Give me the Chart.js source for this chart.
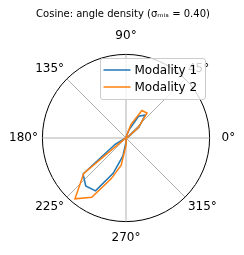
<!DOCTYPE html>
<html>
<head>
<meta charset="utf-8">
<script src="https://cdn.jsdelivr.net/npm/chart.js@4"></script>
<style>
  html, body { margin: 0; padding: 0; background: #fff; }
  #wrap { width: 244px; height: 255px; }
</style>
</head>
<body>
<div id="wrap"><canvas id="chart" width="244" height="255"></canvas></div>
<script>
// histogram bins in degrees, counterclockwise from the right
const binAngles = [0, 10, 20, 30, 40, 50, 60, 70, 80, 90, 100, 110, 120, 130, 140, 150, 160, 170,
  180, 190, 200, 210, 220, 230, 240, 250, 260, 270, 280, 290, 300, 310, 320, 330, 340, 350];
const tickAngles = [0, 45, 90, 135, 180, 225, 270, 315];

const modality1 = [0, 0, 0.01, 0.04, 0.20, 0.36, 0.30, 0.10, 0.02, 0, 0, 0, 0, 0, 0, 0, 0, 0,
  0, 0, 0.02, 0.15, 0.67, 0.75, 0.73, 0.45, 0.22, 0.05, 0.01, 0, 0, 0, 0, 0, 0, 0];
const modality2 = [0, 0, 0.01, 0.03, 0.19, 0.39, 0.38, 0.17, 0.02, 0, 0, 0, 0, 0, 0, 0, 0, 0,
  0, 0, 0, 0.02, 0.66, 0.95, 0.82, 0.52, 0.33, 0.09, 0.01, 0, 0, 0, 0, 0, 0, 0];

const seriesNames = ['Modality 1', 'Modality 2'];
const titleText = 'Cosine: angle density (σₘᵢₛ = 0.40)';
const font = 'DejaVu Sans';

// radar spokes every 5 deg so the 45 deg ticks get a spoke; radar runs clockwise,
// so walk backwards to get matplotlib's counterclockwise direction
const spokeCount = 72;
const spokeAngles = [];
for (let i = 0; i < spokeCount; i++) {
    spokeAngles.push((360 - i * 5) % 360);
}
// bins sit on every other spoke, the rest are gaps the line spans over
function onSpokes(values) {
    return spokeAngles.map(a => {
        const k = binAngles.indexOf(a);
        return k < 0 ? null : values[k];
    });
}

// legend drawn inside the axes, upper right, like plt.legend()
const legendInAxes = {
    id: 'legendInAxes',
    afterDraw(chart) {
        const r = chart.scales.r;
        const ctx = chart.ctx;
        const w = 105, h = 41;
        const x = Math.round(r.xCenter + r.drawingArea - 5 - w) + 0.5;
        const y = Math.round(r.yCenter - r.drawingArea + 4) + 0.5;
        ctx.save();
        ctx.beginPath();
        ctx.roundRect(x, y, w, h, 2.5);
        ctx.fillStyle = 'rgba(255, 255, 255, 0.8)';
        ctx.fill();
        ctx.strokeStyle = '#cccccc';
        ctx.lineWidth = 1;
        ctx.stroke();
        ctx.font = '12px "' + font + '"';
        ctx.textBaseline = 'middle';
        chart.data.datasets.forEach((ds, i) => {
            const cy = y + 11.5 + i * 17;
            ctx.strokeStyle = ds.borderColor;
            ctx.lineWidth = 1.5;
            ctx.beginPath();
            ctx.moveTo(x + 3, cy);
            ctx.lineTo(x + 30, cy);
            ctx.stroke();
            ctx.fillStyle = '#000';
            ctx.fillText(ds.label, x + 34, cy + 0.5);
        });
        ctx.restore();
    }
};

new Chart(document.getElementById('chart'), {
    type: 'radar',
    data: {
        labels: spokeAngles,
        datasets: [
            {
                label: seriesNames[0],
                data: onSpokes(modality1),
                borderColor: '#1f77b4',
                backgroundColor: 'rgba(0,0,0,0)',
                order: 2
            },
            {
                label: seriesNames[1],
                data: onSpokes(modality2),
                borderColor: '#ff7f0e',
                backgroundColor: 'rgba(0,0,0,0)',
                order: 1
            }
        ]
    },
    options: {
        responsive: false,
        animation: false,
        devicePixelRatio: 1,
        spanGaps: true,
        layout: { padding: { left: 2, right: 0, top: 0, bottom: 8 } },
        elements: {
            line: { tension: 0, borderWidth: 1.5, fill: false },
            point: { radius: 0, hoverRadius: 0 }
        },
        plugins: {
            legend: { display: false },
            tooltip: { enabled: false },
            title: {
                display: true,
                text: titleText,
                color: '#000',
                font: { family: font, size: 10, weight: 'normal' },
                padding: { top: 8, bottom: 8 }
            }
        },
        scales: {
            r: {
                startAngle: 90,
                min: 0,
                max: 1,
                ticks: { display: false, stepSize: 1 },
                grid: { circular: true, color: '#000', lineWidth: 1 },
                angleLines: {
                    color: '#b0b0b0',
                    lineWidth: ctx => tickAngles.includes(spokeAngles[ctx.index]) ? 1 : 0
                },
                pointLabels: {
                    color: '#000',
                    font: { family: font, size: 12 },
                    padding: ctx => {
                        const a = spokeAngles[ctx.index];
                        if (a === 0) return 12;
                        if (a === 90) return 11;
                        if (a === 180) return 4.5;
                        if (a === 270) return 9;
                        return 4;
                    },
                    callback: value => tickAngles.includes(value) ? value + '°' : ''
                }
            }
        }
    },
    plugins: [legendInAxes]
});
</script>
</body>
</html>
